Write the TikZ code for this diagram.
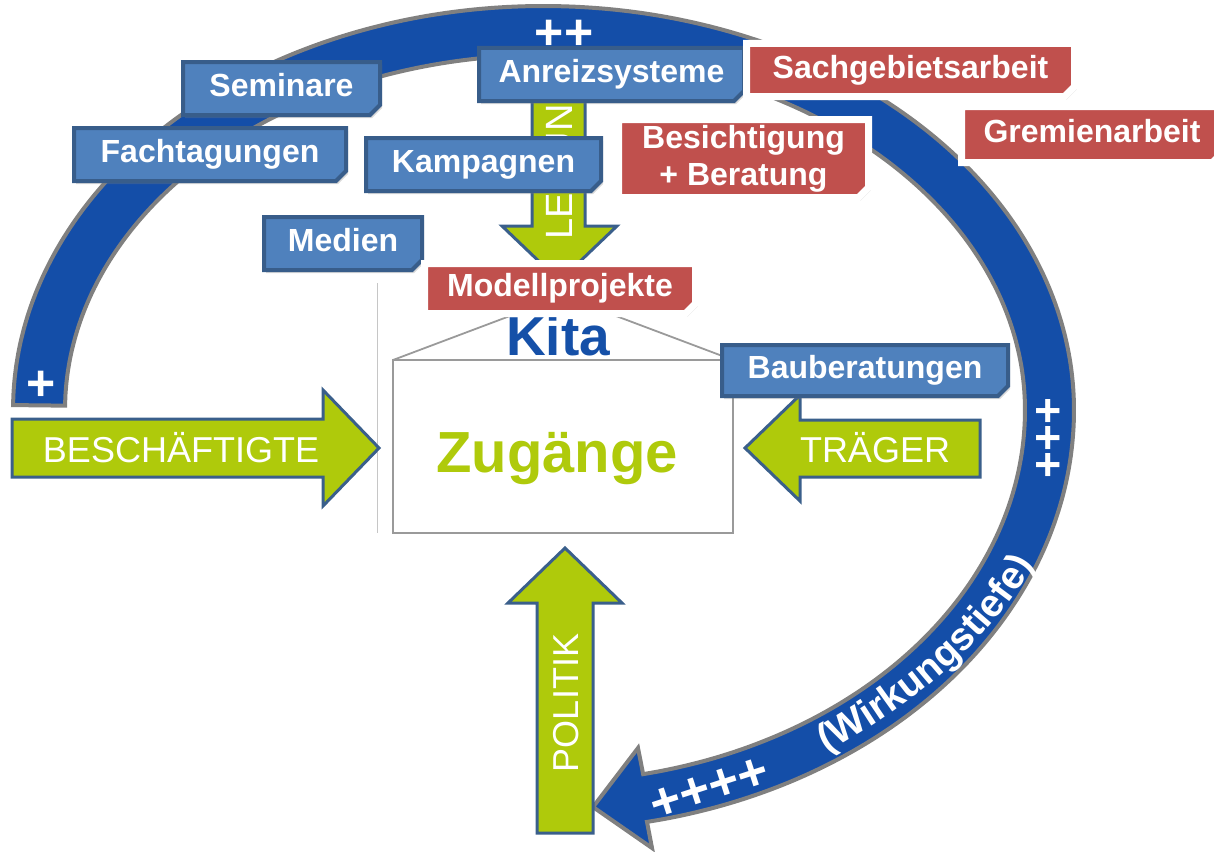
\documentclass[tikz,border=0pt]{standalone}
\usepackage{fontspec}
\setmainfont{Liberation Sans}
\usetikzlibrary{shapes.misc,shadows,decorations.text,calc}
\definecolor{bandblue}{HTML}{144EA8}
\definecolor{bandgray}{HTML}{808080}
\definecolor{boxblue}{HTML}{4F81BD}
\definecolor{boxborder}{HTML}{385D8A}
\definecolor{boxred}{HTML}{C0504D}
\definecolor{arrowgreen}{HTML}{AFCA0B}
\definecolor{arrowborder}{HTML}{3A5F8B}
\definecolor{kitablue}{HTML}{1550A8}
\definecolor{housegray}{HTML}{9A9A9A}
\tikzset{
  bandarrow/.style={fill=bandblue, draw=bandgray, line width=4pt, line join=miter},
  greenarrow/.style={fill=arrowgreen, draw=arrowborder, line width=3pt, line join=miter},
  arrowlabel/.style={text=white, inner sep=0pt, font=\fontsize{36}{36}\selectfont},
  boxbase/.style={chamfered rectangle, chamfered rectangle corners=south east,
    chamfered rectangle sep=5pt, inner sep=0pt, text=white,
    font=\bfseries\fontsize{32}{37}\selectfont,
    drop shadow={shadow xshift=2pt, shadow yshift=-3pt, opacity=0.3}},
  oneline/.style={text height=23pt, text depth=7pt},
  bluebox/.style={boxbase, fill=boxblue, draw=boxborder, line width=4pt},
  redbox/.style={boxbase, fill=boxred, draw=white, line width=7pt},
  plussign/.style={text=white, inner sep=0pt, font=\bfseries\fontsize{50}{50}\selectfont},
}
\begin{document}
\begin{tikzpicture}[x=1pt,y=-1pt]
\useasboundingbox (0,0) rectangle (1214,851);

% big circular arrow (outer and inner elliptic edges)
\filldraw[bandarrow]
  plot[domain=-179.3:78.75, samples=140, smooth] ({543.5+530.5*cos(\x)}, {410+sin(\x)*(\x<0?404:420)})
  -- (652,848) -- (593,807) -- (638,748)
  -- plot[domain=-78.2:179.3, samples=140, smooth] ({545+480*cos(\x)}, {410-sin(\x)*(\x<0?372:355)})
  -- cycle;

% plus signs on the arc
\node (p1) [plussign] at (41,386) {+};
\node (p2) [plussign] at (564,35) {++};
\node (p3) [plussign, font=\bfseries\fontsize{46}{46}\selectfont, rotate=90] at (1050,438) {+++};
\node (p4) [plussign, font=\bfseries\fontsize{52}{52}\selectfont, rotate=18] at (710,789) {++++};

% Wirkungstiefe along the arc
\path[decorate, decoration={text along path, text align=center, text color=white,
  text={|\bfseries\fontsize{39}{39}\selectfont|(Wirkungstiefe)}}]
  (813,760) .. controls (900,714) and (985,652) .. (1042,552);

% house
\draw[gray!45, line width=1pt] (377,283) -- (377,533);
\draw[housegray, line width=1.8pt] (393,360) rectangle (733,533);
\draw[housegray, line width=1.8pt] (393,360) -- (563,296) -- (733,360);
\node (kita) [anchor=base, text=kitablue, inner sep=0pt, font=\bfseries\fontsize{55}{55}\selectfont] at (558,355) {Kita};
\node (zug) [anchor=base, text=arrowgreen, inner sep=0pt, font=\bfseries\fontsize{58}{58}\selectfont] at (557,472) {Zugänge};

% green arrows
\filldraw[greenarrow] (12,419) -- (323,419) -- (323,390) -- (379,448) -- (323,506) -- (323,477) -- (12,477) -- cycle;
\node (besch) [arrowlabel, anchor=base] at (181,462) {BESCHÄFTIGTE};
\filldraw[greenarrow] (980,420) -- (800,420) -- (800,395) -- (745,448) -- (800,501) -- (800,477) -- (980,477) -- cycle;
\node (traeger) [arrowlabel, anchor=base] at (875,462) {TRÄGER};
\filldraw[greenarrow] (532,95) -- (532,226) -- (502,226) -- (559.5,281) -- (617,226) -- (585,226) -- (585,95) -- cycle;
\node (leitung) [arrowlabel, font=\fontsize{38}{38}\selectfont, rotate=90] at (559,157) {LEITUNG};
\filldraw[greenarrow] (537,833) -- (537,603) -- (508,603) -- (565,548) -- (622,603) -- (593,603) -- (593,833) -- cycle;
\node (politik) [arrowlabel, rotate=90] at (566,703) {POLITIK};

% blue boxes
\node (seminare) [bluebox, oneline, minimum width=197pt, minimum height=53pt] at (281.5,88.5) {Seminare};
\node (fach) [bluebox, oneline, minimum width=272pt, minimum height=53pt] at (210,154.5) {Fachtagungen};
\node (kamp) [bluebox, oneline, minimum width=235pt, minimum height=53pt] at (483.5,164.5) {Kampagnen};
\node (medien) [bluebox, oneline, minimum width=158pt, minimum height=53pt] at (343,243.5) {Medien};
\node (anreiz) [bluebox, oneline, minimum width=265pt, minimum height=53pt] at (611.5,74.5) {Anreizsysteme};
\node (bau) [bluebox, oneline, minimum width=286pt, minimum height=51pt] at (865,370.5) {Bauberatungen};

% red boxes
\node (sach) [redbox, oneline, minimum width=328pt, minimum height=53pt] at (910.5,70) {Sachgebietsarbeit};
\node (grem) [redbox, oneline, minimum width=261pt, minimum height=56pt] at (1092,134.5) {Gremienarbeit};
\node (besi) [redbox, align=center, minimum width=250pt, minimum height=78pt, yshift=2pt] at (743.5,160.5) {Besichtigung\\+ Beratung};
\node (modell) [redbox, oneline, minimum width=271pt, minimum height=50pt] at (560,288.5) {Modellprojekte};
\end{tikzpicture}
\end{document}
